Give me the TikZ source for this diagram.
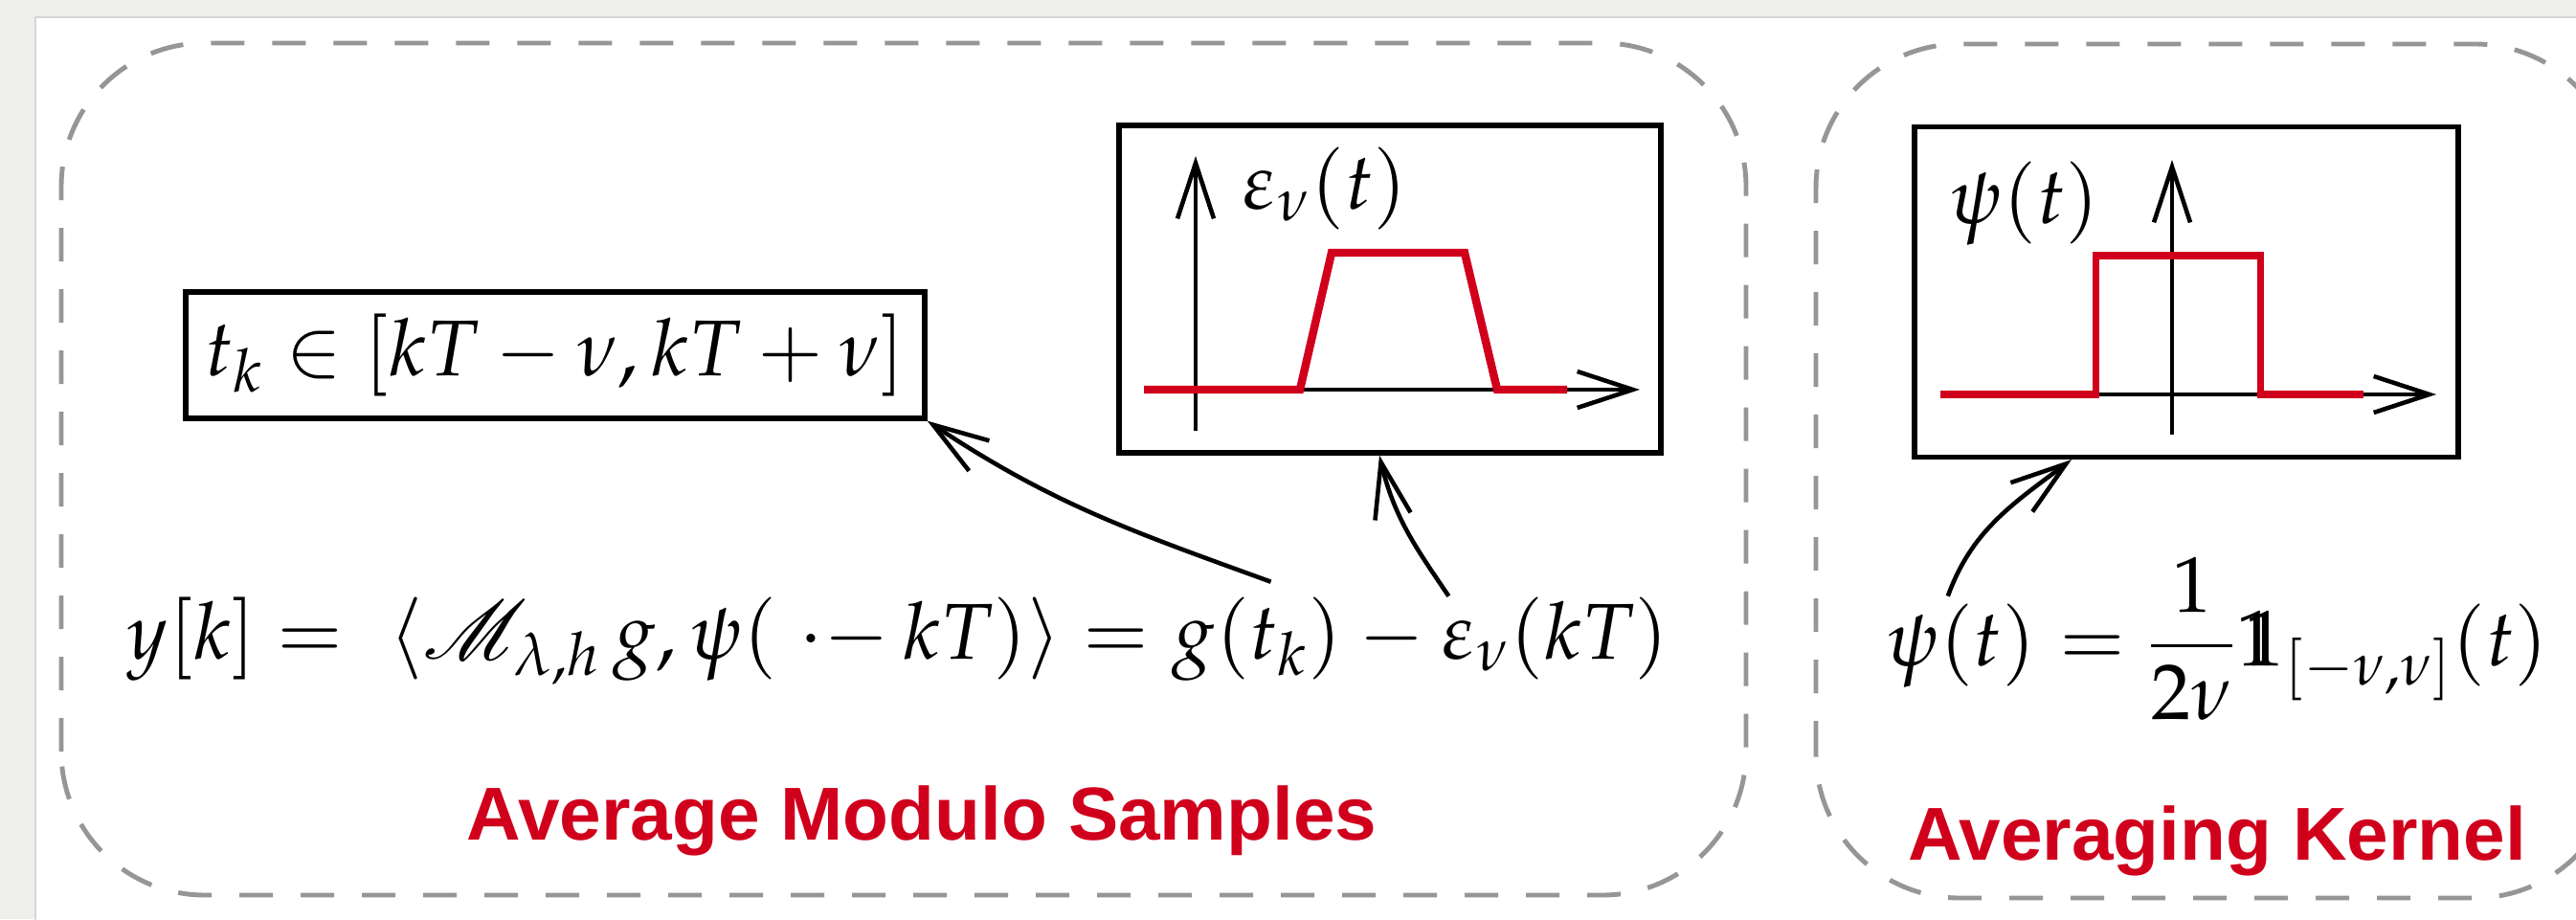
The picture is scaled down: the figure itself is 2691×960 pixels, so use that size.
\documentclass[tikz,border=0pt]{standalone}
\usepackage{amsmath,amssymb}
\usepackage{mathpazo}
\usepackage{mathrsfs}
\IfFileExists{bbm.sty}{\usepackage{bbm}\newcommand\indic{\mathbbm{1}}}{%
  \IfFileExists{bbold.sty}{\usepackage{bbold}\newcommand\indic{\mathbb{1}}}{%
    \newcommand\indic{\mathrm{1\mkern-7mu 1}}}}
\usepackage[no-math]{fontspec}
\newfontfamily\titlefont{Liberation Sans}
\usetikzlibrary{arrows.meta,bending}
\definecolor{kernred}{RGB}{208,0,28}
\definecolor{dashgray}{RGB}{150,150,150}
\definecolor{pagegray}{RGB}{239,239,237}
\definecolor{edgegray}{RGB}{214,214,214}

\tikzset{
  groupbox/.style={draw=dashgray, line width=1.4pt, dash pattern=on 3.5mm off 2.9mm, rounded corners=15mm},
  plotbox/.style={draw, line width=1.5pt, inner sep=0pt},
  barb/.style={line width=1.3pt, -{Straight Barb[length=5.8mm,width=3.8mm]}},
  eqn/.style={inner sep=0pt, font=\fontsize{23.5}{28}\selectfont},
  heading/.style={text=kernred, font=\titlefont\bfseries\fontsize{22.3}{26}\selectfont},
}

\begin{document}
\begin{tikzpicture}[x=0.1mm, y=0.1mm]
  \clip (0,0) rectangle (2691,960);
  \fill[pagegray] (0,0) rectangle (2691,960);
  \filldraw[fill=white, draw=edgegray, line width=0.6pt] (37,-5) rectangle (2700,942);

  % the two groups
  \draw[groupbox] (64,25) rectangle (1824,915);
  \draw[groupbox] (1897,22) rectangle (2735,914);

  % left group
  \node[plotbox, font=\fontsize{23.5}{28}\selectfont, minimum width=77.2mm, minimum height=13.2mm] (tkbox) at (580,589) {$t_k \in [kT-\nu, kT+\nu]$};
  \node[plotbox, minimum width=56.6mm, minimum height=34.2mm] (epsbox) at (1452,658) {};
  \draw[barb] (1249,510) -- (1249,797);
  \draw[barb] (1195,553) -- (1713,553);
  \draw[kernred, line width=2.4pt] (1195,553) -- (1358,553) -- (1391,696) -- (1530,696) -- (1564,553) -- (1637,553);
  \node[eqn] (epslab) at (1384,763) {$\varepsilon_\nu(t)$};

  \node[eqn, anchor=base west] (ylhs) at (132,272) {$y[k] = \ \langle\mathscr{M}_{\lambda,h}\,g,\psi(\;\cdot{-}\,kT)\rangle ={}$};
  \node[eqn, anchor=base west] (gtk) at (ylhs.base east) {$g(t_k)$};
  \node[eqn, anchor=base west] (minus) at (gtk.base east) {${}-{}$};
  \node[eqn, anchor=base west] (epsk) at (minus.base east) {$\varepsilon_\nu(kT)$};

  \draw[barb] ([xshift=1.4mm,yshift=1.5mm]gtk.north) to[out=160,in=-34] (tkbox.south east);
  \draw[barb] ([xshift=0.8mm]epsk.north west) to[out=124,in=-78] ([xshift=-1.1mm]epsbox.south);

  \node[heading, anchor=base] (leftttl) at (963,83) {Average Modulo Samples};

  % right group
  \node[plotbox, minimum width=56.8mm, minimum height=34.5mm] (psibox) at (2284,655) {};
  \draw[barb] (2269,506) -- (2269,793);
  \draw[barb] (2027,548) -- (2545,548);
  \draw[kernred, line width=2pt] (2027,548) -- (2189,548) -- (2189,693) -- (2361,693) -- (2361,548) -- (2469,548);
  \node[eqn] (psilab) at (2115,747) {$\psi(t)$};

  \node[eqn, anchor=base west] (psil) at (1970,265) {$\psi(t)$};
  \node[eqn, anchor=base west] (psir) at (psil.base east) {${}= \dfrac{1}{2\nu}\indic_{[-\nu,\nu]}(t)$};

  \draw[barb] ([xshift=-1.4mm,yshift=0.7mm]psil.north) to[out=70,in=-143] ([xshift=-12mm]psibox.south);

  \node[heading, anchor=base] (rightttl) at (2316,62) {Averaging Kernel};
\end{tikzpicture}
\end{document}
